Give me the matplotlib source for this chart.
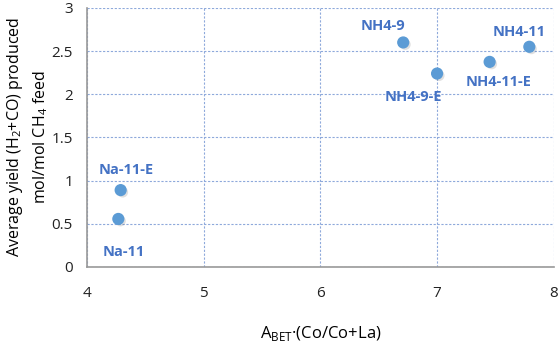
import matplotlib.pyplot as plt
import matplotlib.patheffects as pe

# sample data
labels = ["Na-11-E", "Na-11", "NH4-9", "NH4-9-E", "NH4-11-E", "NH4-11"]
x_vals = [4.29, 4.27, 6.71, 7.00, 7.45, 7.79]
y_vals = [0.89, 0.556, 2.60, 2.24, 2.375, 2.55]
# label offsets (pixels) from each point
offsets = [(6, 20), (5, -33), (-20, 16), (-24, -23), (9, -20), (-10, 15)]

x_ticks = [4, 5, 6, 7, 8]
y_ticks = [0, 0.5, 1, 1.5, 2, 2.5, 3]

plt.rcParams["font.family"] = ["Open Sans", "DejaVu Sans"]

fig = plt.figure(figsize=(5.6, 3.44), dpi=100)
ax = fig.add_axes([0.155, 0.224, 0.834, 0.753])

ax.scatter(x_vals, y_vals, s=60, color="#5B9BD5", zorder=3,
           path_effects=[pe.SimplePatchShadow(offset=(1.5, -1.5), alpha=0.18,
                                              shadow_rgbFace="#555555"),
                         pe.Normal()])

for lab, x, y, off in zip(labels, x_vals, y_vals, offsets):
    ax.annotate(lab, (x, y), xytext=off, textcoords="offset pixels",
                ha="center", va="center", fontsize=10.5, fontweight="bold",
                color="#4472C4")

ax.set_xlim(4, 8)
ax.set_ylim(0, 3)
ax.set_xticks(x_ticks)
ax.set_yticks(y_ticks)
ax.set_yticklabels(["0", "0.5", "1", "1.5", "2", "2.5", "3"])
ax.tick_params(axis="both", length=0, labelsize=11, colors="#222222")
ax.tick_params(axis="x", pad=14)
ax.tick_params(axis="y", pad=10)

ax.grid(True, color="#8EA9DB", linestyle=(0, (2, 1.5)), linewidth=0.8)
ax.set_axisbelow(True)
for side in ["top", "right"]:
    ax.spines[side].set_visible(False)
for side in ["left", "bottom"]:
    ax.spines[side].set_color("#999999")
    ax.spines[side].set_linewidth(1.2)

ax.set_xlabel(r"A$_{\mathregular{BET}}$·(Co/Co+La)", fontsize=12, labelpad=16)
ax.set_ylabel("Average yield (H$_\\mathregular{2}$+CO) produced\n"
              "mol/mol CH$_\\mathregular{4}$ feed", fontsize=11.5, labelpad=1,
              linespacing=1.45)

fig.savefig("out.png", dpi=100)
